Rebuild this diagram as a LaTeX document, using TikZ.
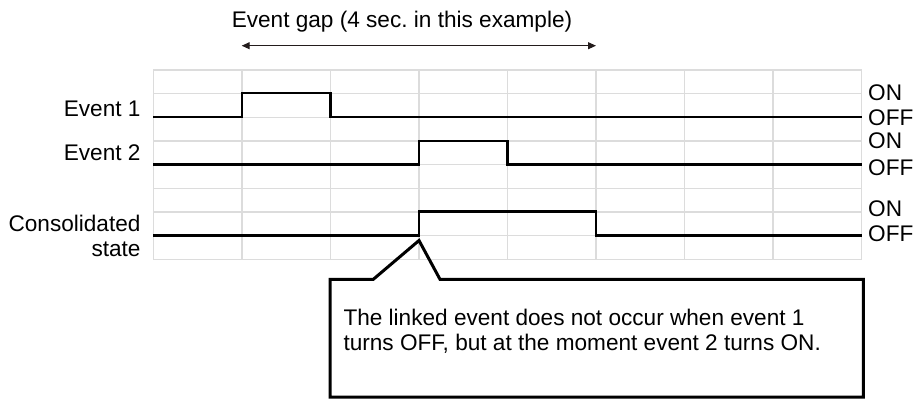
\documentclass[tikz,border=0pt]{standalone}
\usepackage{fontspec}
\setmainfont{Liberation Sans}
\usetikzlibrary{arrows.meta}
\definecolor{gridgray}{RGB}{220,220,220}
\definecolor{arrowdark}{RGB}{35,28,28}
\tikzset{
  gridline/.style={draw=gridgray, line width=1.5pt},
  signal/.style={draw=black, line width=2.4pt, line join=miter},
  callout/.style={draw=black, line width=3pt, line join=miter},
  lbl/.style={inner sep=0pt, font=\fontsize{22.6}{26}\selectfont\frenchspacing},
  gaparrow/.style={draw=arrowdark, line width=1.1pt, {Triangle[length=8pt,width=7pt]}-{Triangle[length=8pt,width=7pt]}}
}
\begin{document}
\begin{tikzpicture}[x=1pt,y=-1pt]
\useasboundingbox (0,0) rectangle (917,400);
% grid
\foreach \i in {0,...,8} {
  \draw[gridline] ({153.3+\i*88.55},70) -- ({153.3+\i*88.55},259.3);
}
\foreach \j in {0,...,8} {
  \draw[gridline] (153.3,{70+\j*23.66}) -- (861.7,{70+\j*23.66});
}
% signals
\draw[signal] (153.3,116.7) -- (241.8,116.7) -- (241.8,92.7) -- (330.4,92.7) -- (330.4,116.7) -- (861.7,116.7);
\draw[signal] (153.3,164.3) -- (418.9,164.3) -- (418.9,140.7) -- (507.5,140.7) -- (507.5,164.3) -- (861.7,164.3);
\draw[signal] (153.3,235.6) -- (418.9,235.6) -- (418.9,211.6) -- (596.0,211.6) -- (596.0,235.6) -- (861.7,235.6);
% left labels
\node[lbl, anchor=base east] (ev1) at (140.7,116) {Event 1};
\node[lbl, anchor=base east] (ev2) at (140.7,160.7) {Event 2};
\node[lbl, anchor=base east] (cons1) at (140.7,231.7) {Consolidated};
\node[lbl, anchor=base east] (cons2) at (140.7,256) {state};
% right labels
\node[lbl, anchor=base west] (on1) at (868,100.7) {ON};
\node[lbl, anchor=base west] (off1) at (868,125) {OFF};
\node[lbl, anchor=base west] (on2) at (868,148.3) {ON};
\node[lbl, anchor=base west] (off2) at (868,175) {OFF};
\node[lbl, anchor=base west] (on3) at (868,216) {ON};
\node[lbl, anchor=base west] (off3) at (868,241.7) {OFF};
% event gap
\node[lbl, anchor=base] (gap) at (402,27.3) {Event gap (4 sec. in this example)};
\coordinate (gapL) at (241.7,45.7);
\coordinate (gapR) at (596,45.7);
\draw[gaparrow] (gapL) -- (gapR);
% callout
\draw[callout] (330,279.3) -- (373.3,279.3) -- (419,240.5) -- (440,279.3) -- (863.3,279.3) -- (863.3,397) -- (330,397) -- cycle;
\node[lbl, anchor=base west] (note1) at (343.3,325) {The linked event does not occur when event 1};
\node[lbl, anchor=base west] (note2) at (343.3,350) {turns OFF, but at the moment event 2 turns ON.};
\end{tikzpicture}
\end{document}
